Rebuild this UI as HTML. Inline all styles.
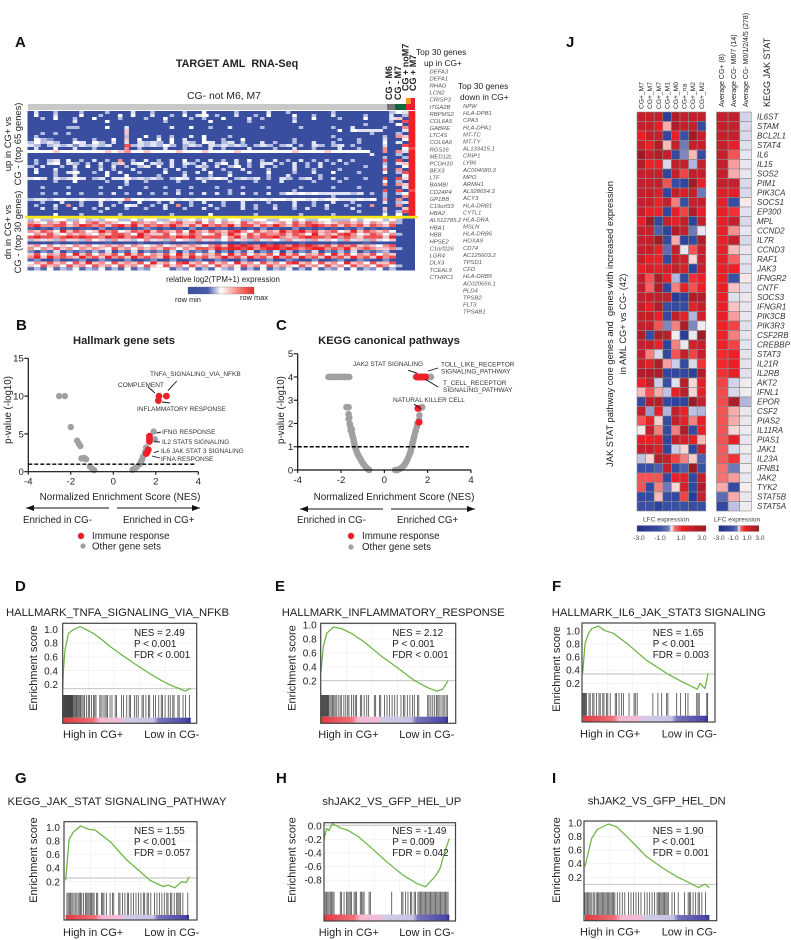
<!DOCTYPE html>
<html lang="en">
<head>
<meta charset="utf-8">
<title>TARGET AML RNA-Seq figure</title>
<style>
html,body{margin:0;padding:0;background:#fff;width:791px;height:940px;overflow:hidden}
svg{display:block;filter:blur(.3px)}
text{font-family:"Liberation Sans",Arial,sans-serif;fill:#222}
.letter{font-size:15px;font-weight:bold;fill:#111}
.tt{font-size:11.2px;font-weight:bold}
.ax{font-size:9.7px}
.xt{font-size:9.9px}
.tk{font-size:9.6px}
.lab{font-size:6.5px;fill:#333}
.gene{font-size:5.9px;font-style:italic;fill:#555}
.jg{font-size:8px;font-style:italic;fill:#333}
.gt{font-size:11.3px}
.nes{font-size:9.9px}
.small{font-size:6.6px;fill:#444}
</style>
</head>
<body>
<svg id="fig" xmlns="http://www.w3.org/2000/svg" width="791" height="940" viewBox="0 0 791 940">
  <rect x="0" y="0" width="791" height="940" fill="#fff"/>

  <text class="letter" x="15" y="47">A</text>
  <text class="letter" x="16" y="330">B</text>
  <text class="letter" x="276" y="330">C</text>
  <text class="letter" x="15" y="591">D</text>
  <text class="letter" x="275" y="591">E</text>
  <text class="letter" x="552" y="591">F</text>
  <text class="letter" x="15" y="783">G</text>
  <text class="letter" x="276" y="783">H</text>
  <text class="letter" x="552" y="783">I</text>
  <text class="letter" x="566" y="47">J</text>

  <!-- Panel A text -->
  <text x="237" y="67" text-anchor="middle" font-size="10.8" font-weight="bold">TARGET AML&#160; RNA-Seq</text>
  <text x="224" y="99" text-anchor="middle" font-size="10.4">CG- not M6, M7</text>
  <text transform="rotate(-90 392 100)" x="392" y="100" font-size="9" font-weight="bold" fill="#333">CG - M6</text>
  <text transform="rotate(-90 401 100)" x="401" y="100" font-size="9" font-weight="bold" fill="#333">CG - M7</text>
  <text transform="rotate(-90 408.5 91)" x="408.5" y="91" font-size="9" font-weight="bold" fill="#333">CG + noM7</text>
  <text transform="rotate(-90 416 91)" x="416" y="91" font-size="9" font-weight="bold" fill="#333">CG + M7</text>
  <text x="416" y="55" font-size="8.4">Top 30 genes</text>
  <text x="424" y="66" font-size="8.4">up in CG+</text>
  <text x="458" y="89" font-size="8.4">Top 30 genes</text>
  <text x="460" y="100" font-size="8.4">down in CG+</text>
  <text transform="rotate(-90 11 144)" x="11" y="144" text-anchor="middle" font-size="9.4">up in CG+ vs</text>
  <text transform="rotate(-90 21 144)" x="21" y="144" text-anchor="middle" font-size="9.4">CG - (top 65 genes)</text>
  <text transform="rotate(-90 11 232)" x="11" y="232" text-anchor="middle" font-size="9.4">dn in CG+ vs</text>
  <text transform="rotate(-90 21 232)" x="21" y="232" text-anchor="middle" font-size="9.4">CG - (top 30 genes)</text>
  <text x="223" y="282" text-anchor="middle" font-size="7.9" fill="#444">relative log2(TPM+1) expression</text>
  <text x="175" y="302" font-size="7.4" fill="#444">row min</text>
  <text x="240" y="300" font-size="7.4" fill="#444">row max</text>

  <defs>
    <linearGradient id="gA"><stop offset="0" stop-color="#3a4ea0"/><stop offset=".3" stop-color="#4a5cab"/><stop offset=".5" stop-color="#fff"/><stop offset=".75" stop-color="#f68a80"/><stop offset="1" stop-color="#e8282a"/></linearGradient>
    <linearGradient id="gJ"><stop offset="0" stop-color="#1f2f85"/><stop offset=".33" stop-color="#3a50a5"/><stop offset=".46" stop-color="#6f7cbc"/><stop offset=".5" stop-color="#f5f2f0"/><stop offset=".55" stop-color="#f46666"/><stop offset=".66" stop-color="#e02028"/><stop offset="1" stop-color="#9a1c24"/></linearGradient>
    <linearGradient id="gS"><stop offset="0" stop-color="#e03a40"/><stop offset=".24" stop-color="#ef7078"/><stop offset=".29" stop-color="#f5b8d0"/><stop offset=".45" stop-color="#f0bcd8"/><stop offset=".48" stop-color="#d0cae6"/><stop offset=".71" stop-color="#c8c4e4"/><stop offset=".75" stop-color="#7a74bc"/><stop offset=".97" stop-color="#4a46a8"/><stop offset="1" stop-color="#2e2e90"/></linearGradient>
  </defs>
  <rect x="188" y="287" width="66" height="7" fill="url(#gA)" stroke="#666" stroke-width=".3"/>

  <!-- Panel B text -->
  <text class="tt" x="124" y="344" text-anchor="middle">Hallmark gene sets</text>
  <text class="ax" transform="rotate(-90 11 410)" x="11" y="410" text-anchor="middle">p-value (-log10)</text>
  <text class="xt" x="120" y="500" text-anchor="middle">Normalized Enrichment Score (NES)</text>
  <text class="lab" x="150" y="376">TNFA_SIGNALING_VIA_NFKB</text>
  <text class="lab" x="118" y="387">COMPLEMENT</text>
  <text class="lab" x="137" y="411">INFLAMMATORY RESPONSE</text>
  <text class="lab" x="162" y="434">IFNG RESPONSE</text>
  <text class="lab" x="162" y="444">IL2 STAT5 SIGNALING</text>
  <text class="lab" x="161" y="453">IL6 JAK STAT 3 SIGNALING</text>
  <text class="lab" x="161" y="461">IFNA RESPONSE</text>
  <text class="ax" x="23" y="523">Enriched in CG-</text>
  <text class="ax" x="123" y="523">Enriched in CG+</text>
  <circle cx="81" cy="536" r="3.2" fill="#ee2027"/>
  <text class="ax" x="92" y="539">Immune response</text>
  <circle cx="83" cy="546" r="2.6" fill="#a0a0a4"/>
  <text class="ax" x="92" y="549.5">Other gene sets</text>

  <!-- Panel C text -->
  <text class="tt" x="389" y="344" text-anchor="middle">KEGG canonical pathways</text>
  <text class="ax" transform="rotate(-90 284 410)" x="284" y="410" text-anchor="middle">p-value (-log10)</text>
  <text class="xt" x="394" y="500" text-anchor="middle">Normalized Enrichment Score (NES)</text>
  <text class="lab" x="353" y="366">JAK2 STAT SIGNALING</text>
  <text class="lab" x="441" y="366.5">TOLL_LIKE_RECEPTOR</text>
  <text class="lab" x="441" y="373.5">SIGNALING_PATHWAY</text>
  <text class="lab" x="443" y="385">T_CELL_RECEPTOR</text>
  <text class="lab" x="443" y="392">SIGNALING_PATHWAY</text>
  <text class="lab" x="393" y="402">NATURAL KILLER CELL</text>
  <text class="ax" x="297" y="523">Enriched in CG-</text>
  <text class="ax" x="397" y="523">Enriched CG+</text>
  <circle cx="351" cy="536" r="3.2" fill="#ee2027"/>
  <text class="ax" x="362" y="539">Immune response</text>
  <circle cx="351" cy="547" r="2.6" fill="#a0a0a4"/>
  <text class="ax" x="362" y="550">Other gene sets</text>

  <!-- Panel J text -->
  <text transform="rotate(-90 613 324)" x="613" y="324" text-anchor="middle" font-size="9.3">JAK STAT pathway core genes and&#160; genes with increased expression</text>
  <text transform="rotate(-90 626 324)" x="626" y="324" text-anchor="middle" font-size="9.3">in AML CG+ vs CG- (42)</text>
  <text transform="rotate(-90 724 107)" x="724" y="107" font-size="7">Average CG+ (8)</text>
  <text transform="rotate(-90 736 107)" x="736" y="107" font-size="7">Average CG- M6/7 (14)</text>
  <text transform="rotate(-90 748 107)" x="748" y="107" font-size="7">Average CG- M0/1/2/4/5 (278)</text>
  <text transform="rotate(-90 770 107)" x="770" y="107" font-size="9">KEGG JAK STAT</text>
  <text class="small" x="643" y="521.5">LFC expression</text>
  <text class="small" x="714" y="521.5">LFC expression</text>
  <rect x="637" y="525.5" width="69" height="6" fill="url(#gJ)" stroke="#888" stroke-width=".3"/>
  <rect x="718.7" y="525.5" width="40.3" height="6" fill="url(#gJ)" stroke="#888" stroke-width=".3"/>
  <text class="small" x="639" y="540" text-anchor="middle">-3.0</text>
  <text class="small" x="660" y="540" text-anchor="middle">-1.0</text>
  <text class="small" x="681" y="540" text-anchor="middle">1.0</text>
  <text class="small" x="702" y="540" text-anchor="middle">3.0</text>
  <text class="small" x="719" y="540" text-anchor="middle">-3.0</text>
  <text class="small" x="733" y="540" text-anchor="middle">-1.0</text>
  <text class="small" x="747" y="540" text-anchor="middle">1.0</text>
  <text class="small" x="760" y="540" text-anchor="middle">3.0</text>

  <!-- GSEA titles and annotations -->
  <text class="gt" x="6" y="616" textLength="223" lengthAdjust="spacing">HALLMARK_TNFA_SIGNALING_VIA_NFKB</text>
  <text class="gt" x="281.7" y="616" textLength="223" lengthAdjust="spacing">HALLMARK_INFLAMMATORY_RESPONSE</text>
  <text class="gt" x="551.7" y="616" textLength="214" lengthAdjust="spacing">HALLMARK_IL6_JAK_STAT3 SIGNALING</text>
  <text class="gt" x="7.5" y="805" textLength="219" lengthAdjust="spacing">KEGG_JAK_STAT SIGNALING_PATHWAY</text>
  <text class="gt" x="322.3" y="805" textLength="139" lengthAdjust="spacing">shJAK2_VS_GFP_HEL_UP</text>
  <text class="gt" x="587.7" y="804.5" textLength="138" lengthAdjust="spacing">shJAK2_VS_GFP_HEL_DN</text>

  <g id="layerA"></g>
  <g id="layerB"></g>
  <g id="layerC"></g>
  <g id="layerJ"></g>
  <g id="layerG"></g>
</svg>

<script>
/* ---------- Panel A data ---------- */
const upRowsA = [
"0400300030 0030004003 0000300500 0030000400 3000000300 0000003549",
"0500400050 0300505004 0030504503 0040030500 0500300400 0030004039",
"0030500300 5000300030 0500030300 5000403000 0300500030 0050004609",
"0000000400 0050000000 0300000050 0000300000 0400000000 0000003089",
"0000000000 0000000000 0000000000 0000000000 0000000000 0030000509",
"0000003300 0050040000 0040050030 0400003000 0030000300 4000030079",
"0000000000 0000060000 0000000000 0000000000 0000000050 5444400049",
"0030303000 0000060000 0000000000 0000000000 0000000000 0003000309",
"0300000000 0000030050 3030040500 0300000000 0000000300 0000030769",
"0532000300 3005060500 5050400500 3005000000 0300000030 0300040059",
"3534300540 5304040434 3050430540 3403004030 0300400300 0300050409",
"4303434243 4340083434 3530343043 4343034303 4030430340 3000040089",
"0400500400 3000070300 0400300040 3000400030 0400300040 0300070058",
"5555655555 5565675565 5556555655 5565555555 5655556555 5550070749",
"0000000000 0000000000 0000000000 0000000000 0000000000 0004000309",
"0000000000 0000000000 0000000000 0000000000 0000000000 0000030039",
"0303405030 4030703040 3040503040 3040503040 3040303040 3000080809",
"0304504303 0403604504 3040430403 5040304403 0403040303 0000030469",
"3040030405 0304030340 5040304304 0350304030 0403040000 0030040059",
"0400400300 0403004000 0304000400 3004000300 0400300030 0000070709",
"0500304500 3050400300 0500304050 0300400500 0300400500 0300050389",
"0000300400 0050050000 3000400030 0500000300 4000030000 0000000059",
"4540434540 3404453434 3035404345 4034340304 3034030403 0030080849",
"0000300500 0030040030 0003000400 0300030004 0000300030 0000050309",
"0000000000 0000030000 0000000000 0000000000 0000000000 0000070769",
"0030003000 0300400030 0300030003 0003000300 0030000300 0300000049",
"0000000000 0000000000 0003000000 0300000000 0300000000 0000080808",
"0030304030 0304030403 0304030404 0304030403 5454544444 3403030359",
"0000000000 0000000000 0000000000 0000000000 0000000300 0000030079",
"3443554454 4545575545 5554545555 5555545455 4554545544 4545070709",
"0030040030 0400300500 3040030400 3004000300 0400300400 3000040349",
"0300407030 0403054003 0407030040 3004030030 0400304003 0307000709",
"0040300400 3040030030 0400300403 0004030040 0304003000 4000060069",
"0000000000 0300000000 0000000000 0000000000 0000000000 0300030389",
"0000500030 0000300000 0030000050 0000030000 0030000300 0000050509"
];
const downRowsA = [
"3533553353 4355335355 3353453535 3553355335 5353355333 5355535300",
"7657685757 8676558767 5678668575 7658676567 5868765677 6757657300",
"8977886798 7868979687 8797686978 7968868797 6878987868 7868768000",
"1010201011 0201010121 0101020101 1010102010 0201010101 0201010000",
"7687596875 6978568796 8768597687 6897586769 7897867856 9687675000",
"5768657676 5768875976 6857687568 6975868778 6875967689 7568757300",
"8988789898 8798978978 8879897888 5796878897 6789887978 7688869000",
"3646374637 5637463574 6375637463 5746374653 7463746537 4637456000",
"0000100100 0010000100 0100010000 1001000100 0010000100 0010000000",
"6757565767 5676757656 7567676578 6989879898 7989878687 8676578000",
"7576867576 7658675767 6875768879 8998978998 9878997879 6787667300",
"2021402121 3140214021 2140312140 2031402140 3021402131 4021230000",
"6857685968 5768596857 6859685768 5968576859 6857685968 5768576000",
"7969787697 8697869787 6978697867 9786978697 8697869786 9786978000",
"1200200120 0210020012 0020012002 1002001200 2100200120 0210020000",
"5768675869 6758676859 6758967586 7596758675 8967586759 6758668000",
"6586758675 8675867586 5867586758 6758675867 6586758675 8675875300",
"1315132513 2513151325 5513251315 3251315132 5131513251 5132513000"
];
const upGenesA = ["DEFA3","DEFA1","RHAG","LCN2","CRISP3","ITGA2B","RBPMS2","COL6A5","GABRE","LTC4S","COL6A6","RGS16","MED12L","PCDH10","BEX3","LTF","BAMBI","CD24P4","GP1BB","C19orf33","HBA2","AL512785.2","HBA1","HBB","HPSE2","C1orf226","LGR4","DLX3","TCEAL9","CTHRC1"];
const downGenesA = ["NPW","HLA-DPB1","CPA3","HLA-DPA1","MT-TC","MT-TY","AL133415.1","CRIP1","LY86","AC004080.3","MPO","ARMH1","AL928654.3","ACY3","HLA-DRB1","CYTL1","HLA-DRA","MSLN","HLA-DRB6","HOXA9","CD74","AC125603.2","TPSD1","CFD","HLA-DRB5","AC020656.1","PLD4","TPSB2","FLT3","TPSAB1"];

/* ---------- Panel B data ---------- */
const xTicksVolcano = [-4,-2,0,2,4];
const yTicksB = [0,5,10,15];
const grayNesB = [-2.55,-2.28,-2.0,-1.7,-1.62,-1.55,-1.5,-1.42,-1.35,-1.28,-1.1,-1.0,-0.9,0.9,1.0,1.1,1.25,1.3,1.35,1.4,1.5,1.55,1.7,1.9,1.95];
const grayPB = [10,10,5.9,4.1,3.7,3.4,1.75,1.8,1.8,1.65,0.7,0.4,0.2,0.25,0.4,0.6,1,1.3,1.6,2,2.6,3.2,4.6,5.3,4.3];
const redNesB = [2.5,2.15,2.12,1.7,1.7,1.7,1.65,1.6,1.55];
const redPB = [10,10,9.4,4.7,4.3,4,2.9,2.6,2.4];

/* ---------- Panel C data ---------- */
const yTicksC = [0,1,2,3,4,5];
const grayNesC = [-2.58,-2.5,-2.42,-2.34,-2.26,-2.18,-2.1,-2.02,-1.94,-1.86,-1.78,-1.7,-1.62,-1.75,-1.65,-1.65,-1.62,-1.65,-1.6,-1.58,-1.55,-1.5,-1.55,-1.5,-1.48,-1.45,-1.42,-1.4,-1.38,-1.36,-1.32,-1.28,-1.24,-1.2,-1.15,-1.1,-1.05,-1,-0.95,-0.9,-0.85,-0.8,-0.75,-0.7,0.5,0.58,0.65,0.72,0.8,0.88,0.95,1,1.05,1.1,1.15,1.2,1.22,1.25,1.28,1.3,1.33,1.35,1.38,1.42,1.45,1.5,1.52,1.6,1.62,1.65,1.75,1.45,1.5,1.6,2.0,2.1,2.15];
const grayPC = [4,4,4,4,4,4,4,4,4,4,4,4,4,2.7,2.7,2.4,2.25,2.2,2,1.9,1.8,1.75,1.7,1.6,1.5,1.4,1.3,1.2,1.1,1,0.9,0.8,0.7,0.62,0.55,0.46,0.38,0.3,0.24,0.18,0.12,0.07,0.03,0,0,0,0.02,0.05,0.1,0.17,0.25,0.33,0.42,0.52,0.65,0.75,0.85,0.95,1.05,1.15,1.25,1.35,1.45,1.6,1.7,1.85,2,2.15,2.35,2.65,2.7,4,4,4,4,4,4];
const redNesC = [1.5,1.58,1.66,1.74,1.82,1.9,1.55,1.6];
const redPC = [4,4,4,4,4,4,2.65,2.05];

/* ---------- Panel J data ---------- */
const genesJ = ["IL6ST","STAM","BCL2L1","STAT4","IL6","IL15","SOS2","PIM1","PIK3CA","SOCS1","EP300","MPL","CCND2","IL7R","CCND3","RAF1","JAK3","IFNGR2","CNTF","SOCS3","IFNGR1","PIK3CB","PIK3R3","CSF2RB","CREBBP","STAT3","IL21R","IL2RB","AKT2","IFNL1","EPOR","CSF2","PIAS2","IL11RA","PIAS1","JAK1","IL23A","IFNB1","JAK2","TYK2","STAT5B","STAT5A"];
const samplesJ = ["CG+_M7","CG+_M7","CG+_M7","CG+_M1","CG+_M0","CG+_na","CG+_M2","CG+_M2"];
const sampleLfcJ = [
[2,2,2,-2,2.5,2,2,2],[2,2,1.2,.35,2.5,2,2,-1.3],[1.1,2,2,-1.5,1.1,-1,3,2],[2,1.2,2.5,.3,2,-.7,2,2],
[3,2,2.5,2,-1.3,-.6,.3,-1.3],[2.5,1,1.2,-.2,2,2,-.4,2],[2,2,2,-1.6,2,.8,2,2],[2,2,2,.7,-1.2,-1.6,3,1.2],
[2,2,1.5,-1.6,2,1.5,2,-.7],[2,2,1,2,.5,-1.1,2,2],[2,1.2,1,-1.5,1.2,.8,2.5,1.2],[1.2,3,-1.5,2,1.2,2,-1.7,2],
[2,2,-.9,-1.7,2.5,2,-.7,-.1],[2,2,3,-1.3,.35,-1.7,-1.3,2.5],[2,2,1.2,-.8,2,-.1,.7,2],[2,1.2,1,-1.5,2,1.7,.15,2],
[1.2,1.7,1.2,1.7,2,1.5,-1.8,2],[2,.7,2.5,1.2,-.4,-1.4,.9,1.1],[2,.6,2.5,-1.6,.5,1.1,.7,1.1],[2,2,2,2,-2.2,-1.8,2.5,2.5],
[2,1.2,2.5,-1.2,-1.3,-1.3,1.2,2],[2,2,1,-1.4,2,1.2,-.4,1.6],[2,2,.7,-.6,.5,2.5,-.6,-.05],[2.5,-1.3,2.5,2.3,-.05,-2,-.1,3],
[2,2,1.1,-1.6,.5,-.1,1.6,2],[2,.5,-.2,-1.5,.7,2,.8,2],[2,1.3,2.5,.4,-.3,-1.3,-.2,.9],[2.5,2.5,2.5,-1.5,-1.5,-1.5,-1.8,2.5],
[1.1,2,-.3,-1,-.15,2.3,.15,1.2],[.3,.7,.35,-.35,1.2,2.3,.15,1.2],[-1.4,2.3,2.3,-1.4,-1.8,-1.6,3,2],[2,-.5,1.2,-.4,2,1,-.35,-.4],
[.7,1.2,.2,-1.3,2,1.2,.5,1.2],[.05,2,.5,-1.3,.5,2.5,-1.3,1.2],[1.2,1.1,1.2,-1.6,2,1.5,1.2,.3],[2,2,1.5,-1.6,-.3,.15,-1.5,2],
[-.35,.15,2.3,2,.8,.5,.2,-.9],[-1,-1,-.9,2,-1.2,-.9,3,-1],[.7,.7,.7,-1.4,1.1,1.3,-1.5,2],[.7,-1.3,.5,-.7,.15,1.5,-1.6,2.5],
[-1.4,-1.4,.3,-1.2,-1.4,.8,-2.2,2],[-1,-1,-1.8,-1.1,-1,-1,-1.2,-1.1]
];
const averageLfcJ = [
[2,2,-.25],[2,2,-.2],[2,2,-.2],[2,1.2,-.15],[2,.7,-.1],[2,.4,-.1],[2,.35,-.1],[2,2,-.2],[1.5,1.3,-.2],[1.3,-1.2,.05],
[1.2,.9,-.15],[1.2,2,-.2],[1.2,.45,-.1],[1.2,2,-.2],[1.2,.3,-.1],[1.2,.6,-.12],[1.1,1,-.15],[1.1,-1,.05],[1.1,.25,-.12],[1.1,-.15,-.08],
[1.1,.25,-.1],[1.1,.4,-.1],[1,.8,-.15],[1,.5,-.12],[1,.8,-.12],[.95,1,-.12],[.95,1.1,-.12],[.9,1.2,-.15],[.8,-.25,-.04],[.75,-.2,-.05],
[.75,2.5,-.4],[.7,.35,-.08],[.7,.35,-.08],[.7,.15,-.05],[.7,1.2,-.1],[.65,-.2,-.05],[.65,.9,-.1],[.55,-.7,-.04],[.55,.4,-.08],[.35,-1.3,.02],
[-.8,.35,-.08],[-1.5,-.35,-.06]
];

/* ---------- GSEA data: rank (% of gene list), enrichment score, hit ranks ---------- */
const rankD = [0,0.6,1.8,4.5,8,13.6,18,24,30,37,46,55.5,62,68.6,77,85.6,90,95.5,100];
const esD = [.15,.42,.7,.94,.99,1.04,1.0,.94,.86,.75,.63,.51,.43,.35,.26,.18,.15,.105,.14];
const hitsD = [0,.4,.8,1.2,1.6,2,2.4,2.8,3.2,3.6,4,4.4,4.8,5.2,5.6,6,6.4,6.8,7.2,7.6,8,8.8,9.6,10.4,11,11.8,12.6,13.4,14,15,16,17,18.5,20,21,22.5,24,25,26,29,30,31.5,33,34,35,37,38.5,41,42,46,47.5,50,52,53,56,57.5,59,62,63,65,67,68,71,72.5,75,77,78,80,82.5,84,86,87,90,91,94,96,99];
const rankE = [0,1.8,4.5,9.7,16,24,34.5,47.6,60.7,73.8,84,91,96,100];
const esE = [.33,.69,.88,.97,.95,.88,.75,.55,.38,.2,.1,.05,.08,.2];
const hitsE = [0,.5,1,1.5,2,2.5,3,3.5,4,4.5,5,5.5,6,7,8,9,10,11,12,13.5,15,16,18,19.5,21,22,24,25.5,27,28,31,32,34,36,37.5,42,43,46,47,50,52,54,56,58,60,63,65,66,68,70,72,73.5,76,77,84,85,86.5,88,89.5,91,92,93,94.5,96,97,98.5,99.5];
const rankF = [0,1.9,4.5,7.2,12.5,17.8,24.5,35,51,67,77.7,91.5,93.6,97.6,100];
const esF = [.36,.81,.95,1.03,1.07,1.0,.96,.81,.55,.35,.24,.11,.2,.12,.35];
const hitsF = [0,.6,1.2,1.8,2.4,3,5,6,8,9,11,13,14,16,17,19,20,22,26,27,29,31,32.5,37,41,42,43.5,56,60,63,67,68,75,78,82,84,91,92,93,99,99.7];
const rankG = [0,2.7,4,6.2,12.2,18.4,23.8,36,49.5,60.3,68.4,79,83,88.6,94,98,100];
const esG = [.22,.81,.86,.93,1.02,.97,.96,.79,.52,.35,.22,.13,.15,.11,.2,.19,.27];
const hitsG = [1,2,3,4,5,6,7.5,8.5,10,11,12,13,14.5,16,17,18,19,20,21,22,23,25,26,29,30,31,33,36,38,39,43,44,46,48,50,51,53,55,57,59,61,63,64,66,67,69,72,74,76,78,80,82,83,85,86,88,90,91,92,93,95,99];
const rankH = [0,2.1,4,6.6,12.8,19.4,27.4,36.7,50,63.3,74,81,88.6,92.6,96.5,100];
const esH = [-.2,-.04,-.07,.03,-.03,-.07,-.16,-.31,-.53,-.73,-.85,-.9,-.75,-.63,-.38,-.19];
const hitsH = [1,2,3,4,5,6,7,8,13,14,16,18,19,20,21,22,24,25,26,29,30,31,32,36,37,54,62,63,65,67,69,70,72,73,75,76,77,78,79,80,81,82,83,84,85,86,87,88,89,90,91,92,93,94,95,96,97,98,99];
const rankI = [0,2.7,5.4,9.9,18.8,25.5,36.2,49.6,63,73.7,81.8,91.2,96.5,100];
const esI = [.36,.57,.77,.9,.98,.94,.75,.5,.33,.21,.14,.05,.1,.05];
const hitsI = [0,1,2,3,4,5,6.5,7.5,9,10,11,12,13,14,15,16,17,18,19,20,21,22,23,24,26,28,30,32,35,37,39,41,43,45,48,50,52,54,56,58,59,60,61,62,63,64,65,66,67,70,72,75,80,83,84,85,87,89,91,92,94,97];
const ticksPos = [0.2,0.4,0.6,0.8,1.0];
const ticksNeg = [0.0,-0.2,-0.4,-0.6,-0.8];

/* ---------- Drawing helpers ---------- */
const NS = "http://www.w3.org/2000/svg";
function mk(tag, attrs, parent, txt){
  const el = document.createElementNS(NS, tag);
  for (const k in attrs) el.setAttribute(k, attrs[k]);
  if (txt !== undefined) el.textContent = txt;
  parent.appendChild(el);
  return el;
}

/* ---------- Panel A ---------- */
(function(){
  const g = document.getElementById('layerA');
  const digitColors = ['#3a4ea0','#5265ae','#8592c8','#b4bce0','#dfe2f2','#ffffff','#fbc6c6','#f78e8e','#f25050','#ee2226'];
  const x0 = 27.5, x1 = 415, cols = 60;
  const cw = (x1 - x0) / cols;
  function drawRows(rows, top, rh, name, narrowIsolated){
    rows.forEach(function(str, r){
      const s = str.replace(/ /g,'');
      mk('rect',{x:x0,y:top+r*rh,width:x1-x0,height:rh+.3,fill:digitColors[0]},g);
      for (let c = 0; c < s.length; c++){
        if (s[c] === '0') continue;
        const isolated = narrowIsolated && c < 57 && s[c-1] === '0' && s[c+1] === '0';
        const w = isolated ? cw * .7 : cw + .3;
        const cell = mk('rect',{x:x0+c*cw,y:top+r*rh,width:w,height:rh+.3,fill:digitColors[+s[c]]},g);
        
        
      }
    });
  }
  const annos = [[28,104,359,6,'#c8c8c8','annotation-cg-minus'],[387,104,8,6,'#777777','annotation-cg-m6'],[395,104,11,6,'#0a6b3a','annotation-cg-m7'],[406,104,9,6,'#ee2030','annotation-cg-plus'],[406,98,4.7,6,'#f39a20','annotation-nom7'],[410.7,98,4.3,6,'#ee2030','annotation-m7']];
  annos.forEach(function(a){
    const r = mk('rect',{x:a[0],y:a[1],width:a[2],height:a[3],fill:a[4]},g);
    
    
  });
  drawRows(upRowsA, 111, 3, 'heatmap-a-up-cell', true);
  drawRows(downRowsA, 218.5, 2.87, 'heatmap-a-down-cell', false);
  const yl = mk('rect',{x:25,y:215.8,width:393,height:2.6,fill:'#f5e614'},g);
  
  
  upGenesA.forEach(function(t,i){
    const el = mk('text',{x:429.5,y:73.3+i*7.09,class:'gene'},g,t);
    
    
  });
  downGenesA.forEach(function(t,i){
    const el = mk('text',{x:463,y:108+i*7.09,class:'gene'},g,t);
    
    
  });
})();

/* ---------- Volcano plots ---------- */
function drawVolcano(g, c){
  const x = function(v){ return c.x0 + (v + 4) / 8 * (c.x1 - c.x0); };
  const y = function(v){ return c.y0 - v / c.yMax * (c.y0 - c.yTop); };
  c.grayNes.forEach(function(v,i){
    const m = mk('circle',{cx:x(v),cy:y(c.grayP[i]),r:c.r,fill:'#a0a0a4'},g);
    
    
  });
  c.redNes.forEach(function(v,i){
    const m = mk('circle',{cx:x(v),cy:y(c.redP[i]),r:c.r+.2,fill:'#ee2027'},g);
    
    
  });
  const cut = mk('line',{x1:x(-4),x2:x(3.9),y1:y(1),y2:y(1),stroke:'#000','stroke-width':1.4,'stroke-dasharray':'4 2'},g);
  
  
  const xa = mk('line',{x1:x(-4),x2:x(4),y1:c.y0,y2:c.y0,stroke:'#111','stroke-width':1.2},g);
  
  
  const ya = mk('line',{x1:c.x0,x2:c.x0,y1:c.y0,y2:c.yTop,stroke:'#111','stroke-width':1.2},g);
  
  
  xTicksVolcano.forEach(function(t){
    const k = mk('line',{x1:x(t),x2:x(t),y1:c.y0,y2:c.y0+3,stroke:'#111','stroke-width':1.1},g);
    
    
    const l = mk('text',{x:x(t),y:c.xLabelY,'text-anchor':'middle',class:'tk'},g,String(t));
    
    
  });
  c.yTicks.forEach(function(t){
    const k = mk('line',{x1:c.x0-4,x2:c.x0,y1:y(t),y2:y(t),stroke:'#111','stroke-width':1.1},g);
    
    
    const l = mk('text',{x:c.x0-4.5,y:y(t)+3.4,'text-anchor':'end',class:'tk'},g,String(t));
    
    
  });
  c.leaders.forEach(function(p){
    const l = mk('line',{x1:p[0],y1:p[1],x2:p[2],y2:p[3],stroke:'#111','stroke-width':.9},g);
    
    
  });
  c.arrows.forEach(function(a){
    const l = mk('line',{x1:a[0],x2:a[1],y1:c.arrowY,y2:c.arrowY,stroke:'#111','stroke-width':1.1},g);
    
    
    const d = a[1] > a[0] ? -8 : 8;
    const h = mk('path',{d:'M'+a[1]+' '+c.arrowY+' l'+d+' -3 v6 z',fill:'#111'},g);
    
    
  });
}
drawVolcano(document.getElementById('layerB'),{
  x0:28.3,x1:198.3,y0:471.7,yTop:358.3,yMax:15,r:3.2,xLabelY:484.5,yTicks:yTicksB,
  grayNes:grayNesB,grayP:grayPB,redNes:redNesB,redP:redPB,arrowY:508,arrows:[[109,26],[117,200]],
  leaders:[[168,390.7,176.7,381],[155,393,148,387],[162,402,170,403],[156.7,433,161,432],[154,441.7,160,442],[154,452.7,159,451],[152,456,160,458]]
});
drawVolcano(document.getElementById('layerC'),{
  x0:297.7,x1:471,y0:470,yTop:353.7,yMax:5,r:3.3,xLabelY:483,yTicks:yTicksC,
  grayNes:grayNesC,grayP:grayPC,redNes:redNesC,redP:redPC,arrowY:509,arrows:[[383,300],[391,475]],
  leaders:[[408.3,370.3,417.3,373.3],[428,371,438,368],[425,379,438,387],[414,404,421,409]]
});

/* ---------- Panel J ---------- */
(function(){
  const g = document.getElementById('layerJ');
  const stops = [[-3,[31,47,133]],[-2,[42,62,154]],[-1,[58,80,165]],[-.6,[128,134,192]],[-.3,[205,205,234]],[0,[245,242,240]],[.3,[248,185,185]],[.6,[244,100,100]],[1,[238,32,39]],[2,[195,32,44]],[3,[154,28,36]]];
  function lfcColor(v){
    for (let i = 0; i < stops.length - 1; i++){
      if (v <= stops[i+1][0]){
        const t = Math.max(0,(v - stops[i][0]) / (stops[i+1][0] - stops[i][0]));
        const a = stops[i][1], b = stops[i+1][1];
        return 'rgb(' + [0,1,2].map(function(k){ return Math.round(a[k] + (b[k]-a[k])*t); }).join(',') + ')';
      }
    }
    return 'rgb(154,28,36)';
  }
  const top = 112, rowH = 9.5;
  function drawMatrix(mat, x0, cw, name){
    mat.forEach(function(row, r){
      row.forEach(function(v, c){
        const cell = mk('rect',{x:x0+c*cw,y:top+r*rowH,width:cw,height:rowH,fill:lfcColor(v),stroke:'#8a8a8a','stroke-width':.6},g);
        
        
      });
    });
  }
  drawMatrix(sampleLfcJ, 637, 8.6, 'heatmap-j-sample-cell');
  drawMatrix(averageLfcJ, 716.5, 11.6, 'heatmap-j-average-cell');
  genesJ.forEach(function(t,i){
    const l = mk('text',{x:757,y:top+i*rowH+7.6,class:'jg'},g,t);
    
    
  });
  samplesJ.forEach(function(t,i){
    const xx = 637 + 8.6*i + 6.6;
    const l = mk('text',{x:xx,y:109,'font-size':6.7,fill:'#444',transform:'rotate(-90 '+xx+' 109)'},g,t);
    
    
  });
})();

/* ---------- GSEA panels ---------- */
function drawGsea(g, c){
  const x = function(r){ return c.x0 + r / 100 * (c.x100 - c.x0); };
  const y = function(v){ return c.tickY2 - (v - c.tick2) * c.pxPerUnit; };
  c.grid.forEach(function(r){
    const gl = mk('line',{x1:x(r),x2:x(r),y1:c.top,y2:c.barTop,stroke:'#eeeeee','stroke-width':.6},g);
    
    
  });
  c.ticks.forEach(function(t){
    const gl = mk('line',{x1:c.left,x2:c.right,y1:y(t),y2:y(t),stroke:'#eeeeee','stroke-width':.6},g);
    
    
    const l = mk('text',{x:c.tickX,y:y(t)+3.6,'text-anchor':'end','font-size':10},g,t.toFixed(1));
    
    
  });
  const base = mk('line',{x1:c.left,x2:c.right,y1:c.baseY,y2:c.baseY,stroke:'#bdbdbd','stroke-width':.9},g);
  
  
  const pts = c.rank.map(function(r,i){ return x(r).toFixed(1) + ',' + y(c.es[i]).toFixed(1); }).join(' ');
  const curve = mk('polyline',{points:pts,fill:'none',stroke:'#6bb544','stroke-width':1.25,'stroke-linejoin':'round'},g);
  
  
  c.hits.forEach(function(r){
    const h = mk('line',{x1:x(r),x2:x(r),y1:c.barTop,y2:c.stripTop,stroke:'#333','stroke-width':.9,opacity:.8},g);
    
    
  });
  const strip = mk('rect',{x:c.x0,y:c.stripTop,width:c.x100-c.x0,height:c.bottom-c.stripTop,fill:'url(#gS)'},g);
  
  
  const frame = mk('rect',{x:c.left,y:c.top,width:c.right-c.left,height:c.bottom-c.top,fill:'none',stroke:'#444','stroke-width':1.2},g);
  
  
  const yt = mk('text',{x:c.yTitleX,y:c.yTitleY,'text-anchor':'middle','font-size':11,transform:'rotate(-90 '+c.yTitleX+' '+c.yTitleY+')'},g,'Enrichment score');
  
  
  c.stats.forEach(function(t,i){
    const s = mk('text',{x:c.statX,y:c.statY+i*11,class:'nes'},g,t);
    
    
  });
  const hi = mk('text',{x:c.hiX,y:c.footY,'font-size':11},g,'High in CG+');
  
  
  const lo = mk('text',{x:c.loX,y:c.footY,'font-size':11},g,'Low in CG-');
  
  
}
const layerG = document.getElementById('layerG');
const gridRanks = [20,40,60,80];
drawGsea(layerG,{left:62.7,right:196.7,top:623.3,bottom:723.3,x0:62.7,x100:190.7,tickY2:684.5,tick2:.2,pxPerUnit:69,baseY:688.7,barTop:695,stripTop:717.7,ticks:ticksPos,tickX:58,grid:gridRanks,rank:rankD,es:esD,hits:hitsD,yTitleX:37,yTitleY:668,stats:["NES = 2.49","P < 0.001","FDR < 0.001"],statX:134,statY:636,hiX:63,loX:144.3,footY:738});
drawGsea(layerG,{left:320.7,right:455.7,top:623.3,bottom:723.3,x0:321,x100:448,tickY2:680.7,tick2:.2,pxPerUnit:69.6,baseY:680.7,barTop:695,stripTop:716.7,ticks:ticksPos,tickX:316.7,grid:gridRanks,rank:rankE,es:esE,hits:hitsE,yTitleX:295.5,yTitleY:668,stats:["NES = 2.12","P < 0.001","FDR < 0.001"],statX:392.3,statY:636,hiX:318.3,loX:399.3,footY:738});
drawGsea(layerG,{left:582,right:715,top:623,bottom:722,x0:582.7,x100:708,tickY2:683.3,tick2:.2,pxPerUnit:65.8,baseY:674,barTop:693,stripTop:715.7,ticks:ticksPos,tickX:580,grid:gridRanks,rank:rankF,es:esF,hits:hitsF,yTitleX:560,yTitleY:669,stats:["NES = 1.65","P < 0.001","FDR = 0.003"],statX:652.7,statY:636,hiX:580,loX:661.7,footY:737.5});
drawGsea(layerG,{left:64,right:197,top:821.7,bottom:920,x0:65.7,x100:189,tickY2:881.7,tick2:.2,pxPerUnit:68,baseY:878,barTop:892.7,stripTop:915,ticks:ticksPos,tickX:60,grid:gridRanks,rank:rankG,es:esG,hits:hitsG,yTitleX:37,yTitleY:860,stats:["NES = 1.55","P < 0.001","FDR = 0.057"],statX:134,statY:834,hiX:63,loX:144.3,footY:936});
drawGsea(layerG,{left:324,right:455.5,top:822.7,bottom:921,x0:324,x100:449.3,tickY2:825.7,tick2:0,pxPerUnit:67.9,baseY:825.2,barTop:891.7,stripTop:914.5,ticks:ticksNeg,tickX:321.7,grid:gridRanks,rank:rankH,es:esH,hits:hitsH,yTitleX:295.5,yTitleY:860,stats:["NES = -1.49","P = 0.009","FDR = 0.042"],statX:392.3,statY:834,hiX:318.7,loX:399.3,footY:936});
drawGsea(layerG,{left:584,right:716.7,top:821,bottom:920.7,x0:585,x100:709.3,tickY2:877.3,tick2:.2,pxPerUnit:68.3,baseY:884.3,barTop:892.3,stripTop:915,ticks:ticksPos,tickX:582,grid:gridRanks,rank:rankI,es:esI,hits:hitsI,yTitleX:560,yTitleY:860,stats:["NES = 1.90","P < 0.001","FDR = 0.001"],statX:652.7,statY:834,hiX:580,loX:661.7,footY:935.5});
</script>
</body>
</html>
